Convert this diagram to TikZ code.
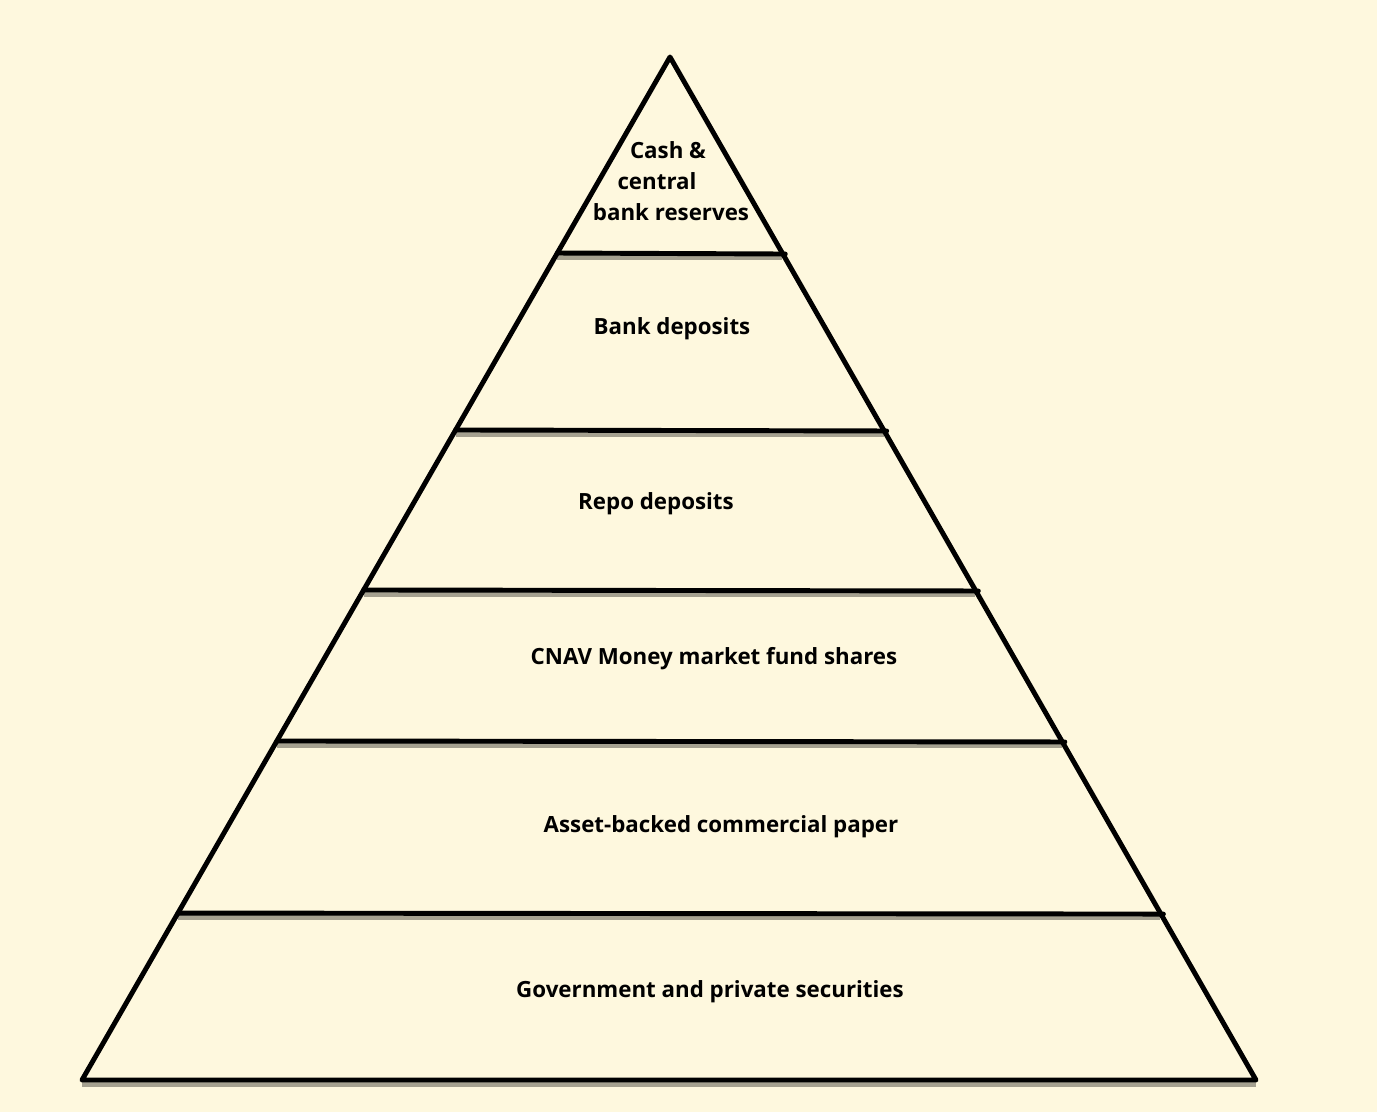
\documentclass[tikz,border=0pt]{standalone}
\usepackage{fontspec}
\setmainfont{Open Sans}
\usetikzlibrary{calc}
\definecolor{cream}{RGB}{254,248,222}
\definecolor{shade}{RGB}{214,170,100}
\tikzset{
  tier/.style={line width=2.8pt, line cap=round, line join=round},
  tiershade/.style={line width=3pt, shade, opacity=0.35},
  lbl/.style={font=\bfseries\fontsize{12.7}{14}\selectfont, inner sep=0pt}
}
\begin{document}
\begin{tikzpicture}[x=0.02cm, y=-0.02cm]

  \fill[cream] (0,0) rectangle (1377,1112);

  \coordinate (apex) at (670,57);
  \coordinate (bl) at (82,1080);
  \coordinate (br) at (1256,1080);

  \foreach \t in {0.1916,0.3646,0.5210,0.6686,0.8368,1}
    \draw[tiershade] ($(apex)!\t!(bl)+(0,4)$) -- ($(apex)!\t!(br)+(0,4)$);

  \draw[tier] (bl) -- (apex) -- (br) -- cycle;
  \foreach \t in {0.1916,0.3646,0.5210,0.6686,0.8368}
    \draw[tier] ($(apex)!\t!(bl)$) -- ($(apex)!\t!(br)+(3,1)$);

  \node[lbl] (cash) at (668,150) {Cash \&};
  \node[lbl] (central) at (657,181) {central};
  \node[lbl] (reserves) at (671,212) {bank reserves};
  \node[lbl] (bank) at (672,329) {Bank deposits};
  \node[lbl] (repo) at (656,504) {Repo deposits};
  \node[lbl] (cnav) at (714,659) {CNAV Money market fund shares};
  \node[lbl] (abcp) at (721,827) {Asset-backed commercial paper};
  \node[lbl] (govt) at (710,992) {Government and private securities};

\end{tikzpicture}
\end{document}
